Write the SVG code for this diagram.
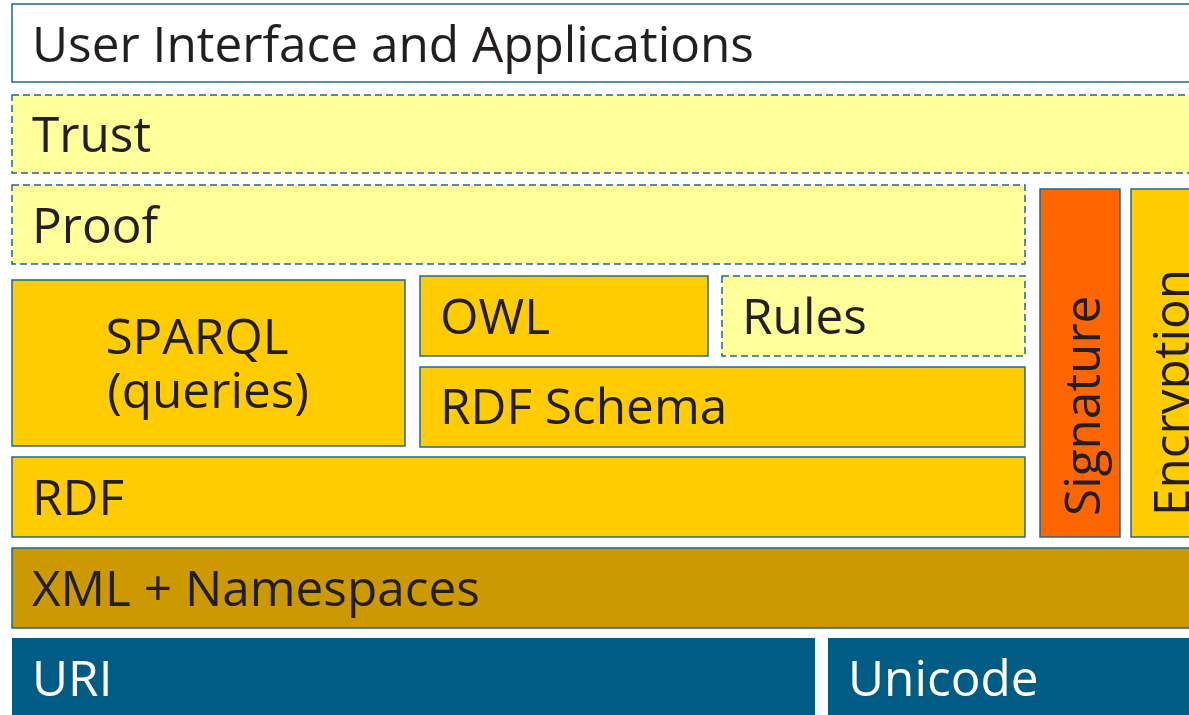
<svg xmlns="http://www.w3.org/2000/svg" width="1189" height="715" viewBox="0 0 1189 715">
<style>
.b{stroke:#1d6a90;stroke-width:1.5}
.d{stroke-dasharray:7 4}
.w{fill:#ffffff}
.ly{fill:#ffff99}
.y{fill:#ffcc00}
.o{fill:#ff6600}
.x{fill:#cc9900}
.u{fill:#005c84}
text{font-family:"Open Sans","DejaVu Sans",sans-serif;font-size:49.5px;fill:#231f20}
.wt{fill:#ffffff}
</style>
<rect width="1189" height="715" fill="#ffffff"/>
<g id="ui"><rect class="b w" x="12" y="4" width="1190" height="78"/><text x="32" y="62">User Interface and Applications</text></g>
<g id="trust"><rect class="b d ly" x="12" y="95" width="1190" height="78"/><text x="32" y="152">Trust</text></g>
<g id="proof"><rect class="b d ly" x="12" y="185" width="1013" height="79"/><text x="32" y="243">Proof</text></g>
<g id="sparql"><rect class="b y" x="12" y="280" width="393" height="166"/><text x="197" y="354" text-anchor="middle">SPARQL</text><text x="208" y="408" text-anchor="middle">(queries)</text></g>
<g id="owl"><rect class="b y" x="420" y="276" width="288" height="80"/><text x="440" y="334">OWL</text></g>
<g id="rules"><rect class="b d ly" x="722" y="276" width="303" height="80"/><text x="742" y="334">Rules</text></g>
<g id="rdfs"><rect class="b y" x="420" y="367" width="605" height="80"/><text x="440" y="424">RDF Schema</text></g>
<g id="rdf"><rect class="b y" x="12" y="457" width="1013" height="80"/><text x="32" y="515">RDF</text></g>
<g id="signature"><rect class="b o" x="1040" y="189" width="80" height="348"/><text transform="translate(1100 516) rotate(-90)">Signature</text></g>
<g id="encryption"><rect class="b y" x="1131" y="189" width="80" height="348"/><text transform="translate(1189 516) rotate(-90)">Encryption</text></g>
<g id="xml"><rect class="b x" x="12" y="548" width="1190" height="80"/><text x="32" y="606">XML + Namespaces</text></g>
<g id="uri"><rect class="u" x="12" y="638" width="803" height="90"/><text class="wt" x="32" y="696">URI</text></g>
<g id="unicode"><rect class="u" x="828" y="638" width="380" height="90"/><text class="wt" x="848" y="696">Unicode</text></g>
<g id="connectors"/>
</svg>
